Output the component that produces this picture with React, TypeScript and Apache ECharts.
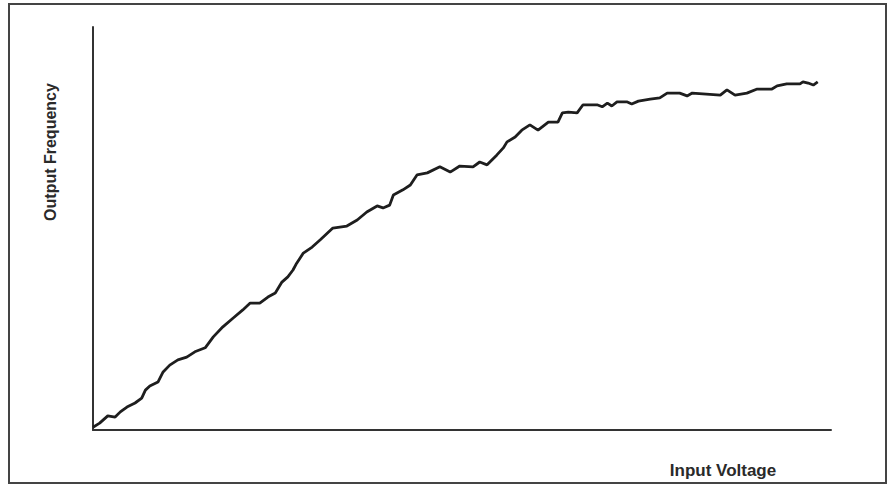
import React, { useEffect, useRef } from "react";
import * as echarts from "echarts";

// Input voltage (percent of axis span) and output frequency (percent of axis span)
const inputVoltage = [
  0, 0.9, 2.0, 3.0, 3.7, 4.6, 5.7, 6.6, 7.1, 7.7, 8.8, 9.5, 10.4, 11.5, 12.7, 13.8, 15.2, 16.3,
  17.6, 19.0, 20.3, 21.3, 22.6, 23.7, 24.7, 25.6, 26.4, 27.1, 27.6, 28.5, 29.7, 30.8, 32.5, 34.4,
  35.8, 37.1, 38.5, 39.3, 40.2, 40.7, 42.0, 43.0, 43.9, 45.3, 47.0, 48.4, 49.7, 51.5, 52.4, 53.4,
  54.7, 55.6, 56.1, 57.2, 58.1, 59.2, 60.3, 61.7, 63.0, 63.6, 64.4, 65.6, 66.4, 68.3, 69.0, 69.7,
  70.3, 71.0, 72.4, 73.0, 73.9, 75.5, 76.8, 77.8, 79.5, 80.5, 81.2, 85.0, 85.9, 87.0, 88.6, 90.0,
  92.0, 92.7, 94.0, 95.8, 96.2, 96.9, 97.6, 98.2,
];
const outputFrequency = [
  0.7, 1.7, 3.5, 3.2, 4.5, 5.7, 6.7, 7.9, 9.9, 10.9, 11.9, 14.4, 16.1, 17.4, 18.1, 19.4, 20.4, 23.1,
  25.6, 27.8, 29.8, 31.5, 31.5, 33.0, 34.0, 36.7, 38.0, 39.7, 41.4, 43.9, 45.4, 47.2, 50.1, 50.6,
  52.1, 54.1, 55.6, 55.1, 55.8, 58.3, 59.6, 60.8, 63.3, 63.8, 65.3, 64.0, 65.5, 65.3, 66.5, 65.8,
  68.2, 70.0, 71.5, 72.7, 74.4, 75.7, 74.4, 76.4, 76.4, 78.7, 78.9, 78.7, 80.7, 80.7, 80.2, 81.1,
  80.4, 81.4, 81.4, 80.9, 81.6, 82.1, 82.4, 83.6, 83.6, 82.9, 83.6, 83.1, 84.4, 83.1, 83.6, 84.6,
  84.6, 85.4, 85.9, 85.9, 86.4, 86.1, 85.6, 86.4,
];

const xAxisName = "Input Voltage";
const yAxisName = "Output Frequency";

export default function App() {
  const ref = useRef<HTMLDivElement>(null);
  useEffect(() => {
    if (!ref.current) return;
    const chart = echarts.init(ref.current, null, { renderer: "svg" });
    const data = inputVoltage.map((x, i) => [x, outputFrequency[i]]);
    const labelFont = '"Liberation Sans Narrow", "Arial Narrow", "Liberation Sans", Arial, sans-serif';
    chart.setOption({
      animation: false,
      backgroundColor: "#ffffff",
      grid: { left: 93, top: 27, width: 738, height: 403, containLabel: false },
      xAxis: {
        type: "value",
        min: 0,
        max: 100,
        axisLine: { show: true, lineStyle: { color: "#333", width: 2 } },
        axisTick: { show: false },
        axisLabel: { show: false },
        splitLine: { show: false },
      },
      yAxis: {
        type: "value",
        min: 0,
        max: 100,
        axisLine: { show: true, lineStyle: { color: "#333", width: 2 } },
        axisTick: { show: false },
        axisLabel: { show: false },
        splitLine: { show: false },
      },
      series: [
        {
          type: "line",
          data,
          showSymbol: false,
          smooth: false,
          lineStyle: { color: "#1e1e1e", width: 2.8 },
        },
      ],
      graphic: [
        {
          type: "rect",
          shape: { x: 9, y: 4, width: 877, height: 479 },
          style: { fill: "none", stroke: "#444", lineWidth: 2 },
        },
        {
          type: "text",
          x: 723,
          y: 470,
          style: {
            text: xAxisName,
            fill: "#2a2a2a",
            font: `bold 17px ${labelFont}`,
            textAlign: "center",
            textVerticalAlign: "middle",
          },
        },
        {
          type: "text",
          x: 50,
          y: 152,
          rotation: Math.PI / 2,
          style: {
            text: yAxisName,
            fill: "#2a2a2a",
            font: `bold 16px ${labelFont}`,
            textAlign: "center",
            textVerticalAlign: "middle",
          },
        },
      ],
    });
    return () => chart.dispose();
  }, []);
  return (
    <div
      ref={ref}
      style={{ position: "fixed", left: 0, top: 0, width: 892, height: 485 }}
    />
  );
}
